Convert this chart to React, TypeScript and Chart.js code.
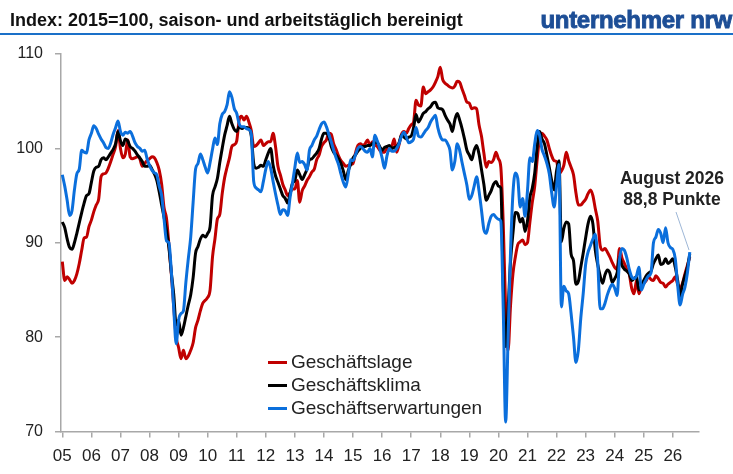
import React, { useEffect, useRef } from "react";
import { Chart, registerables } from "chart.js";

Chart.register(...registerables);

// Monthly values, Jan 2005 .. Aug 2026 (one row per year)
const geschaeftslage: number[] = [
  88.0, 86.0, 86.4, 86.1, 85.7, 86.0, 86.7, 87.8, 89.2, 90.5, 90.6, 91.7,
  92.4, 93.3, 94.0, 94.6, 97.0, 97.3, 97.4, 97.9, 98.6, 99.4, 100.2, 101.9,
  100.0, 99.0, 99.4, 100.9, 99.1, 98.9, 99.0, 99.1, 98.9, 98.1, 98.4, 98.7,
  98.9, 99.1, 99.0, 98.5, 97.7, 96.2, 93.7, 92.6, 89.8, 86.7, 83.2, 80.0,
  78.9, 77.7, 78.6, 77.7, 78.0, 78.6, 79.4, 81.0, 81.8, 82.8, 83.6, 83.9,
  84.2, 85.0, 88.5, 90.4, 92.5, 93.0, 95.2, 96.9, 98.0, 99.0, 100.2, 100.4,
  100.8, 103.0, 103.4, 103.0, 103.4, 102.8, 101.9, 100.2, 100.3, 100.6, 100.9, 100.3,
  100.5, 100.7, 100.7, 101.6, 100.2, 98.1, 97.2, 96.2, 95.6, 95.0, 95.3, 95.7,
  95.7, 96.6, 94.3, 95.5, 96.0, 96.6, 97.0, 97.5, 97.8, 98.8, 99.3, 100.2,
  100.6, 100.9, 101.6, 101.5, 100.5, 99.9, 99.2, 98.7, 98.4, 98.1, 98.2, 98.3,
  98.4, 99.5, 100.3, 100.5, 100.3, 100.5, 100.9, 100.3, 100.7, 100.4, 100.2, 99.8,
  99.6, 99.6, 100.0, 99.8, 100.2, 101.0, 99.6, 100.4, 101.5, 101.8, 101.6, 102.1,
  102.5, 102.8, 105.1, 104.6, 104.5, 106.5, 105.8, 106.0, 106.2, 106.5, 107.0, 107.6,
  108.6, 107.3, 106.9, 106.7, 106.5, 106.4, 106.6, 107.1, 107.0, 106.3, 105.6, 104.9,
  104.8, 104.2, 104.3, 104.2, 102.5, 101.3, 99.5, 98.0, 98.6, 98.5, 98.8, 99.6,
  98.9, 98.0, 92.0, 83.0, 78.6, 83.3, 86.7, 88.5, 89.8, 90.1, 90.3, 89.8,
  90.0, 92.2, 94.3, 96.0, 98.8, 101.1, 101.6, 101.3, 100.9, 100.0, 99.2, 98.7,
  98.6, 97.3, 97.6, 98.2, 99.6, 98.7, 98.0, 97.2, 95.3, 94.0, 94.0, 94.3,
  94.6, 95.2, 95.6, 95.0, 93.6, 92.3, 89.7, 89.2, 89.4, 89.0, 88.5, 87.9,
  87.4, 87.2, 89.4, 88.4, 87.8, 87.2, 86.7, 85.2, 84.6, 86.0, 84.6, 85.3,
  85.7, 86.0, 86.4, 86.1, 86.0, 86.5, 86.2, 85.8, 85.7, 85.3, 85.6, 85.8,
  86.0, 86.4, 85.6, 85.2, 85.7, 86.7, 87.6, 88.5,
];

const geschaeftsklima: number[] = [
  92.2, 91.6, 90.4, 89.5, 89.3, 90.0, 91.0, 92.1, 93.2, 94.2, 95.0, 95.2,
  96.4, 97.6, 98.0, 98.1, 98.8, 99.0, 98.8, 99.1, 99.5, 99.9, 100.5, 101.8,
  100.8, 100.3, 101.0, 100.8, 100.2, 100.0, 99.7, 99.3, 99.0, 98.6, 98.1, 98.1,
  98.2, 97.8, 97.3, 96.6, 95.4, 94.0, 92.7, 91.3, 89.5, 86.8, 84.5, 81.3,
  81.8, 80.2, 81.0, 82.2, 83.4, 84.5, 86.3, 88.9, 89.6, 90.4, 90.8, 90.6,
  91.0, 91.7, 95.0, 95.9, 96.8, 98.5, 100.0, 101.4, 102.4, 103.4, 102.6, 102.0,
  101.8, 102.3, 102.1, 102.2, 102.2, 102.1, 101.3, 98.4, 97.9, 98.0, 98.2, 98.1,
  98.8, 99.5, 100.0, 98.2, 97.1, 96.4, 95.7, 95.0, 94.7, 94.2, 95.2, 96.3,
  96.6, 97.7, 97.2, 96.7, 97.2, 97.8, 98.8, 98.9, 99.2, 99.5, 100.0, 101.0,
  101.6, 101.6, 101.2, 100.2, 99.6, 99.3, 98.9, 98.4, 97.6, 96.7, 97.6, 98.3,
  99.0, 99.3, 99.7, 100.0, 100.2, 100.2, 100.3, 100.3, 100.5, 100.6, 100.6, 100.2,
  99.8, 100.1, 100.2, 100.3, 100.0, 100.1, 100.2, 100.6, 101.4, 101.2, 101.0, 101.2,
  101.3, 102.2, 103.6, 102.8, 103.2, 103.7, 103.9, 104.2, 104.4, 104.8, 104.9, 104.3,
  104.2, 104.1, 103.5, 103.0, 102.6, 101.8, 103.0, 103.7, 103.0, 102.1, 101.0, 99.8,
  99.3, 98.8, 99.8, 100.3, 99.4, 97.8, 96.2, 94.5, 95.0, 95.5, 96.2, 96.5,
  96.0, 95.8, 85.5, 79.0, 83.0, 88.0, 91.0, 93.2, 93.1, 92.2, 92.6, 91.2,
  92.3, 94.8, 95.8, 97.4, 100.2, 101.8, 101.0, 100.5, 99.3, 98.0, 96.6, 95.6,
  97.6, 98.7, 90.1, 91.5, 92.2, 92.0, 88.8, 88.1, 85.6, 85.9, 87.4, 88.9,
  90.5, 92.0, 92.8, 92.0, 89.2, 87.7, 86.5, 85.7, 86.6, 87.1, 86.8, 85.8,
  86.2, 86.8, 88.5, 87.6, 87.2, 87.0, 86.7, 86.0, 86.2, 86.4, 85.0, 85.4,
  86.0, 86.5, 86.8, 87.0, 87.8, 88.3, 88.7, 87.7, 87.8, 88.3, 87.8, 88.0,
  88.3, 87.4, 86.0, 84.3, 85.6, 86.5, 87.4, 88.8,
];

const geschaeftserwartungen: number[] = [
  97.2, 96.0, 94.5, 92.9, 93.4, 95.6, 97.3, 97.8, 99.8, 99.6, 99.5, 100.9,
  101.6, 102.4, 102.1, 101.5, 101.0, 100.6, 100.1, 100.0, 100.6, 101.5, 102.2, 102.9,
  101.8, 101.4, 101.7, 101.6, 101.8, 101.3, 100.6, 100.2, 100.0, 99.7, 99.8, 98.9,
  98.2, 97.7, 97.4, 97.2, 96.0, 95.0, 92.5, 90.2, 90.0, 87.0, 83.0, 79.3,
  81.8, 82.5, 82.8, 85.8, 88.3, 90.6, 94.3, 97.8, 98.4, 99.4, 98.8, 98.0,
  97.4, 98.5, 99.9, 101.1, 100.4, 102.6, 103.6, 103.9, 104.6, 106.0, 105.4, 104.2,
  103.7, 102.6, 102.3, 102.3, 102.1, 102.0, 101.5, 96.5, 95.8, 95.6, 95.4, 96.5,
  97.8, 98.6, 97.9, 96.5, 95.2, 94.0, 93.0, 93.5, 93.4, 92.9, 94.8, 96.3,
  98.0, 99.5, 98.5, 98.6, 98.3, 97.7, 99.8, 100.3, 100.9, 101.3, 102.0, 102.6,
  102.8, 102.3, 101.5, 100.7, 99.8, 99.0, 98.3, 97.3, 96.4, 95.9, 97.2, 98.8,
  98.7, 99.3, 100.0, 100.2, 100.0, 99.7, 99.6, 100.0, 99.1, 101.4, 100.8, 100.0,
  99.0, 97.9, 99.2, 100.0, 99.7, 99.7, 100.0, 100.5, 101.3, 101.7, 101.2, 100.6,
  100.7, 101.0, 102.2, 101.3, 101.2, 101.5, 101.9, 102.2, 102.8, 103.2, 103.5, 102.2,
  101.3, 100.9, 100.9, 100.5, 99.8, 97.7, 98.6, 100.5, 99.8, 98.5, 97.3, 96.1,
  94.6, 95.0, 96.0, 97.0, 95.5, 93.5, 91.4, 91.0, 92.0, 92.8, 93.0, 92.7,
  92.5, 92.3, 83.0, 71.0, 80.0, 89.0, 95.2, 97.4, 96.8, 93.8, 94.7, 92.8,
  95.5, 99.0, 98.6, 100.5, 101.9, 101.4, 99.9, 99.2, 98.4, 97.3, 95.3, 93.8,
  96.0, 98.3, 83.2, 85.4, 84.9, 84.6, 82.5, 80.0, 77.3, 78.6, 82.0, 84.6,
  87.7, 89.0, 89.7, 90.4, 90.9, 88.0, 83.0, 83.0, 83.6, 84.5, 85.2, 85.6,
  85.2, 84.4, 88.2, 89.4, 89.2, 88.4, 87.2, 86.4, 86.2, 86.5, 87.4, 85.0,
  85.6, 86.1, 86.5, 86.8, 90.0, 90.6, 91.4, 91.0, 90.0, 91.6, 90.0, 89.5,
  89.3, 88.3, 85.5, 83.4, 84.5, 85.3, 86.8, 89.0,
];

const startYear = 2005;
const yearTicks: number[] = [2005, 2006, 2007, 2008, 2009, 2010, 2011, 2012, 2013, 2014, 2015, 2016, 2017, 2018, 2019, 2020, 2021, 2022, 2023, 2024, 2025, 2026];
const yearLabels: string[] = ["05", "06", "07", "08", "09", "10", "11", "12", "13", "14", "15", "16", "17", "18", "19", "20", "21", "22", "23", "24", "25", "26"];
const seriesNames: string[] = ["Geschäftslage", "Geschäftsklima", "Geschäftserwartungen"];
const seriesColors: string[] = ["#c00000", "#000000", "#0b6fdc"];

const FONT = "'Liberation Sans', Arial, Helvetica, sans-serif";

const toPoints = (vals: number[]) => vals.map((v, i) => ({ x: startYear + i / 12, y: v }));

export default function App() {
  const ref = useRef<HTMLCanvasElement | null>(null);

  useEffect(() => {
    if (!ref.current) return;
    const allSeries = [geschaeftslage, geschaeftsklima, geschaeftserwartungen];
    const chart = new Chart(ref.current, {
      type: "line",
      data: {
        datasets: allSeries.map((vals, i) => ({
          label: seriesNames[i],
          data: toPoints(vals),
          borderColor: seriesColors[i],
          backgroundColor: seriesColors[i],
          borderWidth: 3,
          pointRadius: 0,
          cubicInterpolationMode: "monotone" as const,
          order: 3 - i,
        })),
      },
      options: {
        responsive: false,
        animation: false,
        layout: { padding: { top: 54, right: 34, left: 0, bottom: 0 } },
        plugins: { legend: { display: false }, tooltip: { enabled: false }, title: { display: false } },
        scales: {
          x: {
            type: "linear",
            min: 2004.955,
            max: 2026.9,
            afterBuildTicks: (scale: any) => {
              scale.ticks = yearTicks.map((v) => ({ value: v }));
            },
            afterFit: (scale: any) => {
              scale.height = 42.5;
            },
            ticks: {
              autoSkip: false,
              maxRotation: 0,
              padding: 9,
              color: "#222",
              font: { family: FONT, size: 17 },
              callback: (_v: any, idx: number) => yearLabels[idx],
            },
            grid: { drawOnChartArea: false, tickLength: 6, color: "#a8a8a8", lineWidth: 1.5 },
            border: { color: "#a8a8a8", width: 1.5 },
          },
          y: {
            min: 70,
            max: 110,
            afterFit: (scale: any) => {
              scale.width = 61;
            },
            ticks: {
              stepSize: 10,
              padding: 12,
              color: "#222",
              font: { family: FONT, size: 16 },
            },
            grid: { drawOnChartArea: false, tickLength: 6, color: "#a8a8a8", lineWidth: 1.5 },
            border: { color: "#a8a8a8", width: 1.5 },
          },
        },
      },
    } as any);
    return () => chart.destroy();
  }, []);

  const legendTop = [362, 385, 408];

  return (
    <div style={{ position: "absolute", left: 0, top: 0, width: 733, height: 474, background: "#fff", fontFamily: FONT, overflow: "hidden" }}>
      <canvas ref={ref} width={733} height={474} style={{ position: "absolute", left: 0, top: 0, width: 733, height: 474 }} />
      <div style={{ position: "absolute", left: 10, top: 9, fontSize: 18, fontWeight: 700, color: "#111", whiteSpace: "nowrap", lineHeight: "22px" }}>
        Index: 2015=100, saison- und arbeitstäglich bereinigt
      </div>
      <div style={{ position: "absolute", right: 1, top: 6, fontSize: 24, fontWeight: 700, color: "#1d4e96", whiteSpace: "nowrap", lineHeight: "27px", letterSpacing: "-0.3px", WebkitTextStroke: "0.9px #1d4e96" }}>
        unternehmer nrw
      </div>
      <div style={{ position: "absolute", left: 0, top: 33, width: 733, height: 2, background: "#1a70c8" }} />
      {seriesNames.map((name, i) => (
        <div key={name} style={{ position: "absolute", left: 268, top: legendTop[i] - 12, height: 24, display: "flex", alignItems: "center", whiteSpace: "nowrap" }}>
          <div style={{ width: 19, height: 3, background: seriesColors[i], marginRight: 4 }} />
          <span style={{ fontSize: 19, color: "#222", lineHeight: "24px" }}>{name}</span>
        </div>
      ))}
      <div style={{ position: "absolute", left: 612, top: 168, width: 120, textAlign: "center", fontSize: 17.5, fontWeight: 700, color: "#222", lineHeight: "21px" }}>
        August 2026
        <br />
        88,8 Punkte
      </div>
      <svg width={733} height={474} style={{ position: "absolute", left: 0, top: 0, pointerEvents: "none" }}>
        <line x1={676} y1={212} x2={689} y2={250} stroke="#9db6d6" strokeWidth={1} />
      </svg>
    </div>
  );
}
